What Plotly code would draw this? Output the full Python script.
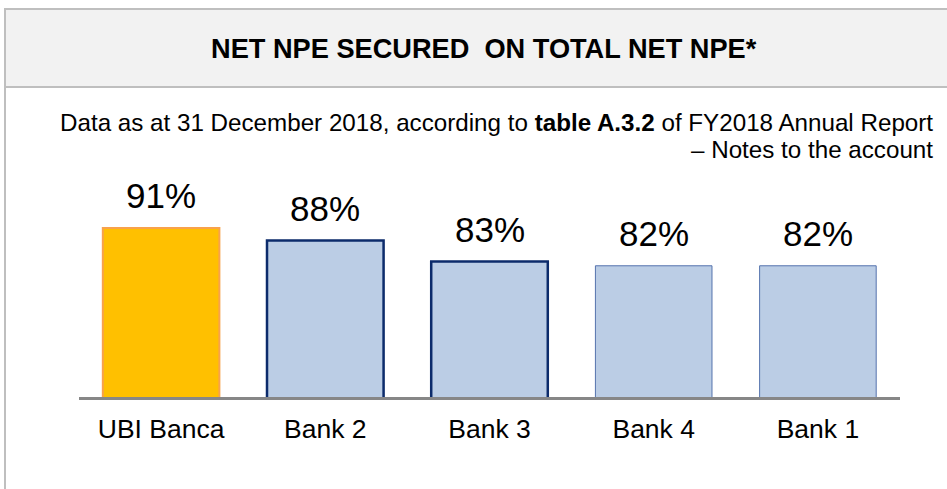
import plotly.graph_objects as go

# ---- data ----
categories = ["UBI Banca", "Bank 2", "Bank 3", "Bank 4", "Bank 1"]
values = [91, 88, 83, 82, 82]
value_labels = ["91%", "88%", "83%", "82%", "82%"]
fill_colors = ["#FFC000", "#BBCDE5", "#BBCDE5", "#BBCDE5", "#BBCDE5"]
line_colors = ["#F8A24C", "#0C2B6B", "#0C2B6B", "#5573AD", "#5573AD"]
line_widths = [2, 2.5, 2.5, 1, 1]

title_text = "NET NPE SECURED\u00a0 ON TOTAL NET NPE*"
subtitle_line1 = "Data as at 31 December 2018, according to <b>table A.3.2</b> of FY2018 Annual Report"
subtitle_line2 = "– Notes to the account"

# body margin is removed by post_script, so the figure sits at (0, 0)
W, H = 947, 489
L, R, T, B = 79, 47, 170, 92
PW, PH = W - L - R, H - T - B
FONT = "Liberation Sans, Arial, sans-serif"


def px(xp):
    return (xp - L) / PW


def py(yp):
    return (H - B - yp) / PH


fig = go.Figure()
fig.add_trace(go.Bar(
    x=categories, y=values,
    marker=dict(color=fill_colors, line=dict(color=line_colors, width=line_widths)),
    hoverinfo="skip",
))

for c, v, t in zip(categories, values, value_labels):
    fig.add_annotation(x=c, y=v, xref="x", yref="y", text=t, showarrow=False,
                       yanchor="middle", yshift=32,
                       font=dict(family=FONT, size=35, color="#000000"))

# header band + frame
fig.add_shape(type="rect", xref="paper", yref="paper",
              x0=px(5), x1=px(970), y0=py(87), y1=py(9),
              fillcolor="#F2F2F2", line=dict(color="#BFBFBF", width=2), layer="below")
fig.add_shape(type="line", xref="paper", yref="paper",
              x0=px(5), x1=px(5), y0=py(87), y1=py(500),
              line=dict(color="#BFBFBF", width=2))

fig.add_annotation(xref="paper", yref="paper", x=px(484), y=py(48),
                   text="<b>" + title_text + "</b>", showarrow=False,
                   xanchor="center", yanchor="middle",
                   font=dict(family=FONT, size=27.2, color="#000000"))
fig.add_annotation(xref="paper", yref="paper", x=px(935), y=py(122.5),
                   text=subtitle_line1, showarrow=False, align="right",
                   xanchor="right", yanchor="middle",
                   font=dict(family=FONT, size=24.2, color="#000000"))
fig.add_annotation(xref="paper", yref="paper", x=px(935), y=py(149.5),
                   text=subtitle_line2, showarrow=False, align="right",
                   xanchor="right", yanchor="middle",
                   font=dict(family=FONT, size=24.2, color="#000000"))

fig.update_layout(
    width=W, height=H,
    margin=dict(l=L, r=R, t=T, b=B, pad=0),
    paper_bgcolor="#FFFFFF", plot_bgcolor="#FFFFFF",
    bargap=0.29,
    showlegend=False,
    font=dict(family=FONT, color="#000000"),
    xaxis=dict(showline=True, linecolor="#878787", linewidth=3, ticks="",
               showgrid=False, zeroline=False, ticklabelstandoff=6,
               tickfont=dict(family=FONT, size=26.5, color="#000000")),
    yaxis=dict(range=[50.83, 50.83 + PH / 4.21], visible=False, showgrid=False,
               zeroline=False),
)

fig.write_html("out.html",
               config={"displayModeBar": False},
               post_script="document.body.style.margin='0';document.body.style.overflow='hidden';")
